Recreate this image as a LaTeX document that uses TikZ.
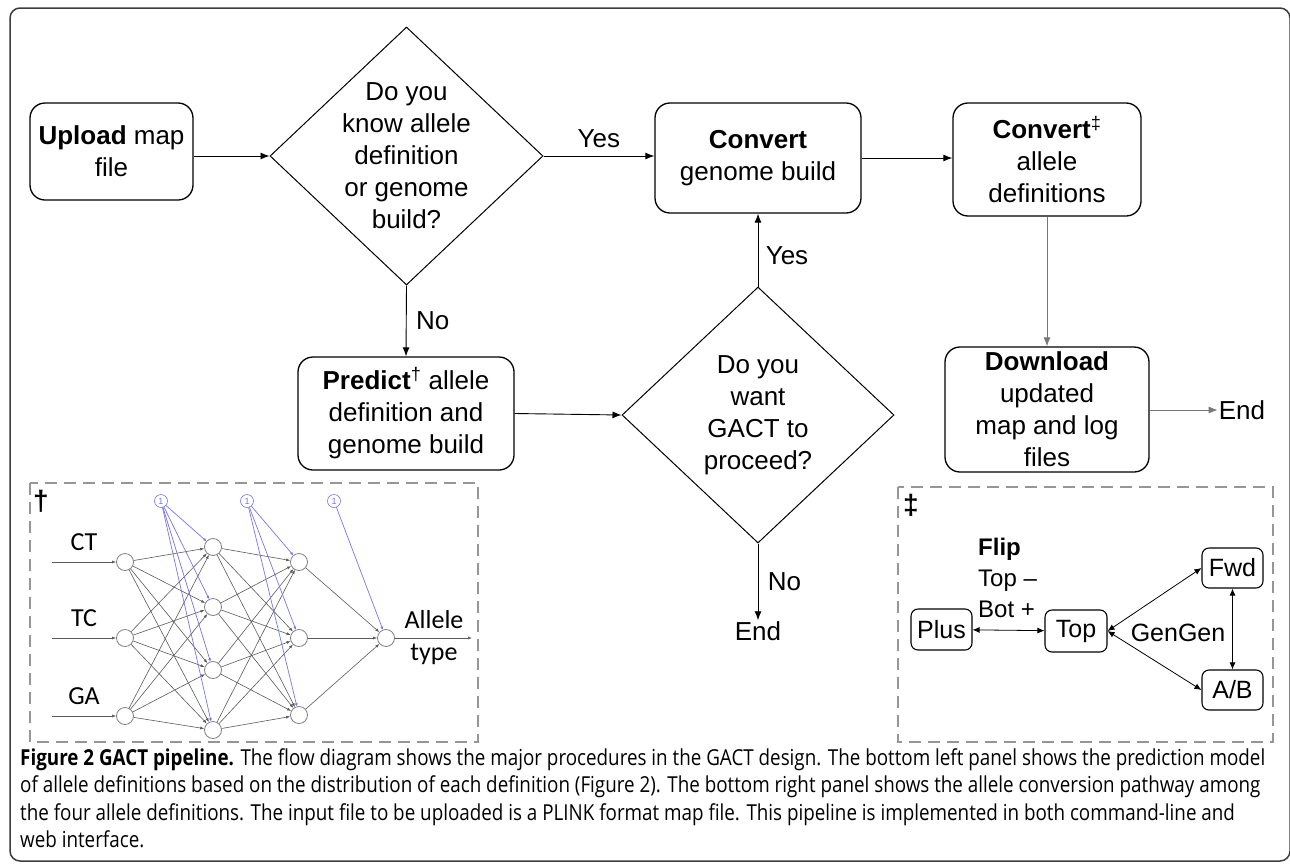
\documentclass[tikz,border=0pt]{standalone}
\usepackage{fontspec}
\setmainfont{Liberation Sans}
\newfontfamily\calibfont{Carlito}
\newfontfamily\capfont[FakeStretch=0.855]{Open Sans}
\usepackage{tikz}
\usetikzlibrary{arrows.meta,calc,positioning,shapes.geometric}
\definecolor{nnblu}{RGB}{118,118,232}
\definecolor{nnpunta}{RGB}{30,30,200}
\definecolor{nngrigio}{RGB}{90,90,90}
\definecolor{tratteggio}{RGB}{150,150,150}

\begin{document}
\begin{tikzpicture}[x=1pt, y=-1pt,
  font=\fontsize{26}{32}\selectfont,
  blocco/.style={draw, line width=1.3pt, rounded corners=15pt, align=center, inner sep=0pt},
  rombo/.style={draw, line width=1pt, diamond, inner sep=0pt},
  freccia/.style={line width=0.9pt, -{Latex[length=9pt,width=7pt]}},
  grigia/.style={freccia, draw={rgb,255:red,120;green,120;blue,120}},
  neurone/.style={circle, draw=gray, fill=white, line width=0.8pt, minimum size=17pt, inner sep=0pt},
  nnlinea/.style={draw=nngrigio, line width=0.6pt, -{Latex[length=4pt,width=3pt]}},
  nnbias/.style={draw=nnblu, line width=0.7pt, -{Latex[length=3pt,width=3pt,fill=nnpunta]}},
  nntesto/.style={font=\calibfont\fontsize{26}{32}\selectfont},
  pannello/.style={draw=tratteggio, line width=2pt, dash pattern=on 12pt off 7pt},
  piccolo/.style={draw, line width=1.1pt, rounded corners=7pt, inner sep=0pt, font=\fontsize{25}{30}\selectfont},
  doppia/.style={line width=0.8pt, {Latex[length=7pt,width=6pt]}-{Latex[length=7pt,width=6pt]}}
]
\useasboundingbox (0,0) rectangle (1290,865);
% cornice esterna
\draw[line width=1.5pt, draw={rgb,255:red,60;green,60;blue,60}, rounded corners=10pt] (10,8) rectangle (1290,861);

% blocchi del flusso
\node[blocco, minimum width=163pt, minimum height=97pt] (upload) at (111.5,151.5) {\textbf{Upload} map\\file};
\node[rombo, minimum width=273pt, minimum height=258pt] (q1) at (406.5,156) {};
\node[align=center] (q1t) at (q1) {Do you\\know allele\\definition\\or genome\\build?};
\node[blocco, minimum width=206pt, minimum height=110pt] (conv1) at (758,158) {\textbf{Convert}\\genome build};
\node[blocco, minimum width=188pt, minimum height=113pt] (conv2) at (1047,159.5) {\textbf{Convert}\textsuperscript{‡}\\allele\\definitions};
\node[blocco, minimum width=204pt, minimum height=125pt] (download) at (1047,409.5) {\textbf{Download}\\updated\\map and log\\files};
\node[blocco, minimum width=216pt, minimum height=113pt] (predict) at (406,413.5) {\textbf{Predict}\textsuperscript{†} allele\\definition and\\genome build};
\node[rombo, minimum width=272pt, minimum height=256pt] (q2) at (758,415) {};
\node[align=center] (q2t) at (q2) {Do you\\want\\GACT to\\proceed?};
\node[inner sep=1pt] (fine1) at (1242,410) {End};
\node[inner sep=1pt] (fine2) at (758,631) {End};

% collegamenti
\draw[freccia] (upload.east |- q1.west) -- (q1.west);
\draw[freccia] (q1.east) -- (q1.east -| conv1.west) node[midway,above=4pt] (si1) {Yes};
\draw[freccia] (conv1.east) -- (conv1.east -| conv2.west);
\draw[grigia] (conv2.south) -- (download.north);
\draw[grigia] (download.east |- fine1.west) -- (fine1.west);
\draw[freccia] (q1.south) -- (predict.north) node[midway,right=6pt] (no1) {No};
\draw[freccia] (predict.east) -- (q2.west);
\draw[freccia] (q2.north) -- (conv1.south) node[pos=0.42,right=4pt] (si2) {Yes};
\draw[freccia] (q2.south) -- (fine2.north) node[midway,right=6pt] (no2) {No};

% pannello sinistro: rete neurale
\draw[pannello] (30,483) rectangle (478,742);
\node[font=\bfseries\fontsize{28}{30}\selectfont] (croce) at (41,501) {†};
\foreach \i/\yi/\lab in {1/562/CT, 2/638/TC, 3/716/GA}{
  \node[neurone] (in\i) at (125,\yi) {};
  \coordinate (s\i) at (52,\yi);
  \draw[nnlinea] (s\i) -- (in\i);
  \node[nntesto] (l\i) at (84,\yi-20) {\lab};
}
\foreach \j/\yj in {1/547, 2/607, 3/670, 4/730}
  \node[neurone] (h\j) at (213,\yj) {};
\foreach \k/\yk in {1/562, 2/638, 3/715}
  \node[neurone] (k\k) at (299,\yk) {};
\node[neurone] (out) at (386,638) {};
\foreach \b/\xb in {1/161, 2/247, 3/334}
  \node[circle, draw=nnblu, line width=0.6pt, fill=white, minimum size=13pt, inner sep=0pt,
        text=nnblu, font=\fontsize{9}{9}\selectfont] (b\b) at (\xb,501) {1};
\foreach \i in {1,2,3}
  \foreach \j in {1,...,4}
    \draw[nnlinea] (in\i) -- (h\j);
\foreach \j in {1,...,4}
  \foreach \k in {1,2,3}
    \draw[nnlinea] (h\j) -- (k\k);
\foreach \k in {1,2,3}
  \draw[nnlinea] (k\k) -- (out);
\foreach \j in {1,...,4}
  \draw[nnbias] (b1) -- (h\j);
\foreach \k in {1,2,3}
  \draw[nnbias] (b2) -- (k\k);
\draw[nnbias] (b3) -- (out);
\coordinate (uscita) at (472,638);
\draw[nnlinea] (out) -- (uscita);
\node[nntesto, align=center] (tipo) at (434,638) {Allele\\type};

% pannello destro: conversione alleli
\draw[pannello] (898,487) rectangle (1273,742);
\node[font=\bfseries\fontsize{28}{30}\selectfont] (croce2) at (911,505) {‡};
\node[piccolo, minimum width=61pt, minimum height=41pt] (plus) at (941.5,629.5) {Plus};
\node[piccolo, minimum width=62pt, minimum height=42pt] (top) at (1076,631) {Top};
\node[piccolo, minimum width=61pt, minimum height=40pt] (fwd) at (1232.5,568) {Fwd};
\node[piccolo, minimum width=61pt, minimum height=40pt] (ab) at (1232.5,690) {A/B};
\node[anchor=west, align=left, inner sep=0pt, font=\fontsize{24}{31}\selectfont] (flip) at (978,578) {\textbf{Flip}\\Top –\\Bot +};
\node[font=\fontsize{25}{30}\selectfont] (gengen) at (1178,633) {GenGen};
\draw[doppia] (plus) -- (top);
\draw[doppia] (top.east) -- (fwd.west);
\draw[doppia] (top.east) -- (ab.west);
\draw[doppia] (fwd) -- (ab);

% didascalia
\node[anchor=north west, align=left, inner sep=0pt, font=\capfont\fontsize{22}{27.5}\selectfont] (didascalia) at (20,748)
  {\textbf{Figure 2 GACT pipeline.} The flow diagram shows the major procedures in the GACT design. The bottom left panel shows the prediction model\\
   of allele definitions based on the distribution of each definition (Figure 2). The bottom right panel shows the allele conversion pathway among\\
   the four allele definitions. The input file to be uploaded is a PLINK format map file. This pipeline is implemented in both command-line and\\
   web interface.};
\end{tikzpicture}
\end{document}
